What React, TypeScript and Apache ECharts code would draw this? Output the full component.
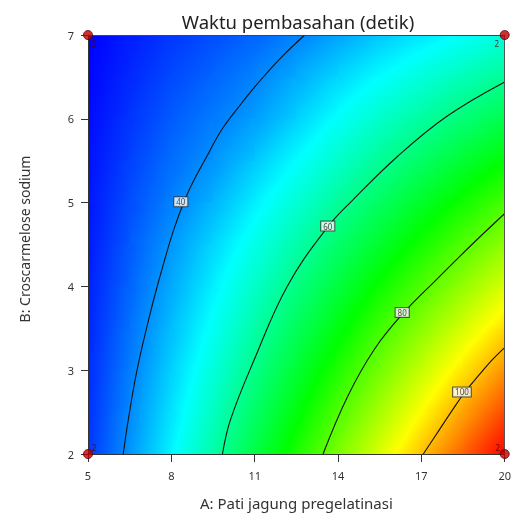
import React, { useEffect, useRef } from "react";
import * as echarts from "echarts";

// ---- data ----
const TITLE = "Waktu pembasahan (detik)";
const X_NAME = "A: Pati jagung pregelatinasi";
const Y_NAME = "B: Croscarmelose sodium";

// grid of response values (node values of the coloured surface)
const X_NODES = [5, 6.5, 8, 9.5, 11, 12.5, 14, 15.5, 17, 18.5, 20];
const Y_NODES = [2, 2.5, 3, 3.5, 4, 4.5, 5, 5.5, 6, 6.5, 7];
const ROW_Y2_0 = [33.1, 41.4, 49.7, 58.0, 66.4, 74.7, 83.0, 91.3, 99.7, 108.0, 116.3];
const ROW_Y2_5 = [32.6, 40.4, 48.1, 55.8, 63.6, 71.3, 79.1, 86.8, 94.5, 102.3, 110.0];
const ROW_Y3_0 = [32.2, 39.3, 46.5, 53.6, 60.8, 67.9, 75.1, 82.3, 89.4, 96.6, 103.7];
const ROW_Y3_5 = [31.7, 38.3, 44.9, 51.4, 58.0, 64.6, 71.1, 77.7, 84.3, 90.8, 97.4];
const ROW_Y4_0 = [31.3, 37.2, 43.2, 49.2, 55.2, 61.2, 67.2, 73.2, 79.1, 85.1, 91.1];
const ROW_Y4_5 = [30.8, 36.2, 41.6, 47.0, 52.4, 57.8, 63.2, 68.6, 74.0, 79.4, 84.8];
const ROW_Y5_0 = [30.4, 35.2, 39.5, 44.0, 49.2, 54.1, 59.2, 64.1, 68.9, 73.7, 78.5];
const ROW_Y5_5 = [29.9, 34.1, 38.0, 41.2, 45.8, 50.4, 55.0, 59.5, 63.8, 68.0, 72.2];
const ROW_Y6_0 = [29.5, 33.0, 36.4, 39.2, 42.0, 46.5, 51.0, 55.0, 58.6, 62.3, 65.9];
const ROW_Y6_5 = [29.0, 32.0, 34.8, 37.2, 39.8, 43.2, 47.0, 50.4, 53.5, 56.6, 59.6];
const ROW_Y7_0 = [28.6, 31.0, 33.3, 35.2, 37.2, 39.7, 42.6, 45.7, 48.4, 50.8, 53.3];

// contour lines [A, B]
const CONTOUR_40 = [[6.27, 2], [6.45, 2.41], [6.77, 3.01], [7.27, 3.72], [7.66, 4.2], [8.09, 4.68], [8.52, 5.06], [8.88, 5.31], [9.34, 5.59], [9.81, 5.87], [10.42, 6.14], [11.13, 6.43], [11.95, 6.73], [12.8, 7]];
const CONTOUR_60 = [[9.84, 2], [10.13, 2.41], [10.99, 3.13], [12.17, 4.0], [13.63, 4.71], [14.53, 5.03], [16.14, 5.55], [17.92, 6.03], [20, 6.44]];
const CONTOUR_80 = [[13.46, 2], [14.35, 2.69], [15.31, 3.25], [16.32, 3.67], [17.57, 4.09], [18.82, 4.5], [20, 4.87]];
const CONTOUR_100 = [[17.07, 2], [17.61, 2.27], [18.11, 2.52], [18.57, 2.74], [19.07, 2.94], [19.54, 3.12], [20, 3.27]];
// contour label positions [A, B, level]
const CONTOUR_LABELS = [[8.34, 5.01, 40], [13.63, 4.72, 60], [16.31, 3.69, 80], [18.46, 2.74, 100]];
// design points [A, B, replicates]
const DESIGN_POINTS = [[5, 7, 2], [20, 7, 2], [5, 2, 2], [20, 2, 2]];

// colour scale of the surface (min .. max of the response)
const SCALE_VALUES = [28.6, 50.5, 72.4, 94.4, 116.3];
const SCALE_COLORS = [[0, 0, 255], [0, 255, 255], [0, 255, 0], [255, 255, 0], [255, 0, 0]];

const FONT = "'Noto Sans', 'Open Sans', sans-serif";

function colorAt(v: number): string {
  const n = SCALE_VALUES.length;
  if (v <= SCALE_VALUES[0]) v = SCALE_VALUES[0];
  if (v >= SCALE_VALUES[n - 1]) v = SCALE_VALUES[n - 1];
  let k = 0;
  while (k < n - 2 && v > SCALE_VALUES[k + 1]) k++;
  const t = (v - SCALE_VALUES[k]) / (SCALE_VALUES[k + 1] - SCALE_VALUES[k]);
  const a = SCALE_COLORS[k], b = SCALE_COLORS[k + 1];
  const c = a.map((x, i) => Math.round(x + (b[i] - x) * t));
  return `rgb(${c[0]},${c[1]},${c[2]})`;
}

export default function App() {
  const ref = useRef<HTMLDivElement>(null);
  useEffect(() => {
    if (!ref.current) return;
    const chart = echarts.init(ref.current, null, { renderer: "svg" });
    const FIELD = [ROW_Y2_0, ROW_Y2_5, ROW_Y3_0, ROW_Y3_5, ROW_Y4_0, ROW_Y4_5, ROW_Y5_0, ROW_Y5_5, ROW_Y6_0, ROW_Y6_5, ROW_Y7_0];
    const cells: number[][] = [];
    for (let j = 0; j < Y_NODES.length - 1; j++)
      for (let i = 0; i < X_NODES.length - 1; i++) cells.push([X_NODES[i], Y_NODES[j], i, j]);
    const lastI = X_NODES.length - 2;
    const lastJ = Y_NODES.length - 2;

    const renderCell = (params: any, api: any) => {
      const i = api.value(2) as number;
      const j = api.value(3) as number;
      const x0 = X_NODES[i], x1 = X_NODES[i + 1], y0 = Y_NODES[j], y1 = Y_NODES[j + 1];
      const v00 = FIELD[j][i], v10 = FIELD[j][i + 1], v01 = FIELD[j + 1][i], v11 = FIELD[j + 1][i + 1];
      const tl = api.coord([x0, y1]);
      const br = api.coord([x1, y0]);
      const w = br[0] - tl[0];
      const h = br[1] - tl[1];
      const ax = ((v10 - v00) + (v11 - v01)) / 2 / w;
      const ay = -((v01 - v00) + (v11 - v10)) / 2 / h;
      const vc = (v00 + v10 + v01 + v11) / 4;
      const cx = tl[0] + w / 2, cy = tl[1] + h / 2;
      const g = Math.sqrt(ax * ax + ay * ay);
      let fill: any = colorAt(vc);
      if (g > 1e-9) {
        const R = Math.sqrt(w * w + h * h) / 2;
        const ux = ax / g, uy = ay / g;
        const vs = vc - g * R, ve = vc + g * R;
        const stops: any[] = [{ offset: 0, color: colorAt(vs) }];
        for (const t of SCALE_VALUES) {
          if (t > vs && t < ve) stops.push({ offset: (t - vs) / (ve - vs), color: colorAt(t) });
        }
        stops.push({ offset: 1, color: colorAt(ve) });
        fill = {
          type: "linear",
          x: cx - ux * R,
          y: cy - uy * R,
          x2: cx + ux * R,
          y2: cy + uy * R,
          colorStops: stops,
          global: true,
        };
      }
      const extR = i < lastI ? 0.8 : 0;
      const extT = j < lastJ ? 0.8 : 0;
      return {
        type: "rect",
        shape: { x: tl[0], y: tl[1] - extT, width: w + extR, height: h + extT },
        style: { fill, stroke: null },
        silent: true,
      };
    };

    const contourSeries = [CONTOUR_40, CONTOUR_60, CONTOUR_80, CONTOUR_100].map((d) => ({
      type: "line",
      data: d,
      smooth: 0.4,
      symbol: "none",
      silent: true,
      z: 3,
      lineStyle: { color: "#111", width: 1.1 },
    }));

    const offsets: Record<string, number[]> = {
      "5,7": [6, 8],
      "20,7": [-8, 8],
      "5,2": [6, -7],
      "20,2": [-7, -7],
    };

    chart.setOption({
      animation: false,
      textStyle: { fontFamily: FONT },
      grid: { left: 88, right: 6, top: 35, bottom: 63 },
      graphic: [
        {
          type: "text",
          x: 298,
          y: 21,
          z: 10,
          style: {
            text: TITLE,
            fontSize: 18.5,
            fontFamily: FONT,
            fill: "#222",
            align: "center",
            verticalAlign: "middle",
            textAlign: "center",
            textVerticalAlign: "middle",
          },
        },
        {
          type: "text",
          x: 24,
          y: 239,
          rotation: Math.PI / 2,
          z: 10,
          style: {
            text: Y_NAME,
            fontSize: 14,
            fontFamily: FONT,
            fill: "#333",
            align: "center",
            verticalAlign: "middle",
            textAlign: "center",
            textVerticalAlign: "middle",
          },
        },
      ],
      xAxis: [
        {
          type: "value",
          min: 5,
          max: 20,
          interval: 3,
          z: 4,
          name: X_NAME,
          nameLocation: "middle",
          nameGap: 41,
          nameTextStyle: { fontSize: 15, color: "#333", fontFamily: FONT },
          axisLine: { show: true, onZero: false, lineStyle: { color: "#333", width: 1 } },
          axisTick: { show: true, length: 8, lineStyle: { color: "#333" } },
          axisLabel: { margin: 16, fontSize: 11, color: "#333", fontFamily: FONT },
          splitLine: { show: false },
        },
        {
          type: "value",
          position: "top",
          min: 5,
          max: 20,
          z: 4,
          axisLine: { show: true, onZero: false, lineStyle: { color: "#444", width: 1 } },
          axisTick: { show: false },
          axisLabel: { show: false },
          splitLine: { show: false },
        },
      ],
      yAxis: [
        {
          type: "value",
          min: 2,
          max: 7,
          interval: 1,
          z: 4,
          axisLine: { show: true, onZero: false, lineStyle: { color: "#333", width: 1 } },
          axisTick: { show: true, length: 7, lineStyle: { color: "#333" } },
          axisLabel: { margin: 14, fontSize: 11, color: "#333", fontFamily: FONT },
          splitLine: { show: false },
        },
        {
          type: "value",
          position: "right",
          min: 2,
          max: 7,
          z: 4,
          axisLine: { show: true, onZero: false, lineStyle: { color: "#555", width: 1 } },
          axisTick: { show: false },
          axisLabel: { show: false },
          splitLine: { show: false },
        },
      ],
      series: [
        {
          type: "custom",
          data: cells,
          renderItem: renderCell,
          silent: true,
          z: 1,
          encode: { x: 0, y: 1 },
        },
        ...contourSeries,
        {
          type: "scatter",
          data: CONTOUR_LABELS,
          symbolSize: 0,
          silent: true,
          z: 6,
          label: {
            show: true,
            position: "inside",
            formatter: (p: any) => String(p.value[2]),
            fontSize: 8,
            fontFamily: FONT,
            color: "#222",
            backgroundColor: "#fff",
            borderColor: "#333",
            borderWidth: 1,
            padding: [1, 2, 0, 2],
          },
        },
        {
          type: "scatter",
          clip: false,
          z: 8,
          symbolSize: 9,
          itemStyle: { color: "#c00000", borderColor: "#5a0000", borderWidth: 1 },
          data: DESIGN_POINTS.map((p) => ({
            value: p,
            label: {
              show: true,
              position: "inside",
              offset: offsets[`${p[0]},${p[1]}`],
              formatter: String(p[2]),
              fontSize: 8,
              color: "#4a0000",
              fontFamily: FONT,
            },
          })),
        },
      ],
    });
    return () => chart.dispose();
  }, []);
  return <div ref={ref} style={{ position: "fixed", left: 0, top: 0, width: 514, height: 517 }} />;
}
